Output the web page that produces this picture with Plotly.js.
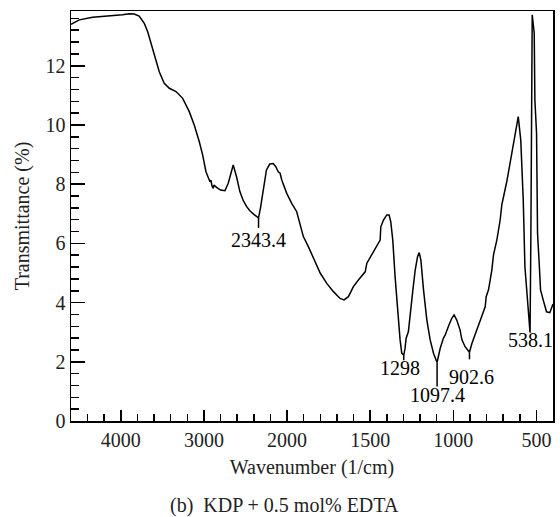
<!DOCTYPE html>
<html>
<head>
<meta charset="utf-8">
<script src="https://cdn.plot.ly/plotly-3.0.1.min.js"></script>
<style>
  html, body { margin: 0; padding: 0; background: #ffffff; }
  #chart { width: 560px; height: 517px; }
</style>
</head>
<body>
<div id="chart"></div>
<script>
// FTIR spectrum: KDP + 0.5 mol% EDTA
const wavenumber = [
  4600, 4500, 4340, 4180, 4060, 3980, 3900, 3840, 3780, 3718, 3677, 3638, 3598, 3538,
  3478, 3417, 3337, 3256, 3177, 3117, 3057, 3016, 2976, 2944, 2928, 2916, 2904, 2888,
  2880, 2848, 2800, 2748, 2708, 2648, 2608, 2568, 2528, 2488, 2448, 2400, 2360, 2343.4,
  2320, 2300, 2280, 2256, 2248, 2208, 2166, 2136, 2106, 2084, 2064, 2004,
  1972, 1942, 1922, 1912, 1902, 1872, 1842, 1800, 1761, 1721, 1681, 1657, 1631, 1601,
  1571, 1530, 1520, 1490, 1460, 1440, 1436, 1420, 1400, 1386, 1376, 1364, 1350, 1336,
  1320, 1310, 1298, 1290, 1284, 1270, 1260, 1243, 1229, 1215, 1205, 1195, 1179, 1159,
  1139, 1119, 1103, 1097.4, 1090, 1079, 1059, 1049, 1029, 1009, 995, 979, 959, 948,
  929, 915, 902.6, 888, 858, 828, 808, 802, 788, 768, 758, 738, 718, 708, 678, 648,
  623, 609, 594, 579, 569, 555, 546, 538.1, 533, 529, 525, 513, 509, 499, 493, 483,
  475, 459, 439, 419, 407, 400
];
const transmittance = [
  13.40, 13.55, 13.64, 13.67, 13.68, 13.72, 13.76, 13.75, 13.68, 13.43, 13.15, 12.76, 12.31, 11.80,
  11.41, 11.24, 11.13, 10.90, 10.45, 10.00, 9.44, 8.99, 8.42, 8.14, 8.08, 8.14, 7.95, 7.86,
  7.97, 7.89, 7.80, 7.78, 8.03, 8.65, 8.25, 7.75, 7.45, 7.25, 7.10, 6.98, 6.90, 6.86,
  7.20, 7.55, 7.95, 8.25, 8.48, 8.68, 8.70, 8.59, 8.42, 8.37, 8.14, 7.69,
  7.35, 7.07, 6.68, 6.51, 6.23, 5.89, 5.50, 4.99, 4.65, 4.37, 4.14, 4.09, 4.20, 4.54,
  4.76, 5.04, 5.33, 5.61, 5.89, 6.11, 6.56, 6.79, 6.96, 6.96, 6.73, 6.11, 4.87, 3.75,
  2.74, 2.29, 2.22, 2.46, 2.79, 3.02, 3.64, 4.43, 5.10, 5.55, 5.69, 5.44, 4.43, 3.41,
  2.74, 2.29, 2.05, 1.98, 2.17, 2.45, 2.80, 2.90, 3.20, 3.47, 3.58, 3.41, 3.07, 2.74,
  2.51, 2.40, 2.32, 2.62, 3.07, 3.52, 3.86, 4.20, 4.43, 5.10, 5.61, 6.11, 6.79, 7.30, 8.09, 9.04,
  9.77, 10.28, 9.49, 7.47, 5.21, 4.09, 3.50, 2.98, 6.34, 11.97, 13.72, 13.10, 10.84, 9.72, 6.34, 5.33,
  4.43, 4.09, 3.69, 3.66, 3.81, 3.95
];

// Labelled absorption bands
const peakWavenumbers = [2343.4, 1298, 1097.4, 902.6, 538.1];
const peakLabels = ['2343.4', '1298', '1097.4', '902.6', '538.1'];

// Axis tick labels
const majorTicks = [4000, 3000, 2000, 1500, 1000, 500];
const majorTickText = ['4000', '3000', '2000', '1500', '1000', '500'];
const yTicks = [0, 2, 4, 6, 8, 10, 12];

// The wavenumber axis is compressed 2:1 above 2000 1/cm
function toAxis(w) {
  return w >= 2000 ? (4600 - w) / 2 : 1300 + (2000 - w);
}

const FONT = '"Liberation Serif", "Times New Roman", serif';

// Minor tick positions
const xMinor = [];
for (let w = 4400; w > 2000; w -= 200) if (w % 1000 !== 0) xMinor.push(toAxis(w));
for (let w = 1900; w >= 400; w -= 100) if (w % 500 !== 0) xMinor.push(toAxis(w));
const yMinor = [];
for (let k = 1; k * 0.4 < 13.85; k++) if (k % 5 !== 0) yMinor.push(+(k * 0.4).toFixed(2));

// Leader lines below the labelled minima (length in px)
const leaderPx = [10, 5, 24, 7, 0];
const labelGapPx = [9, 0, 20, 12, -6];
const labelDx = [0, -4, 0, 2, 0];
const pxPerUnit = 410 / 13.85;

const leadX = [], leadY = [];
const annotations = [];
peakWavenumbers.forEach((w, i) => {
  const idx = wavenumber.indexOf(w);
  const t = transmittance[idx];
  if (leaderPx[i] > 0) {
    leadX.push(toAxis(w), toAxis(w), null);
    leadY.push(t, t - leaderPx[i] / pxPerUnit, null);
  }
  annotations.push({
    x: toAxis(w), y: t, xref: 'x', yref: 'y',
    text: peakLabels[i], showarrow: false,
    xanchor: 'center', yanchor: 'top',
    yshift: -labelGapPx[i], xshift: labelDx[i],
    font: { family: FONT, size: 20, color: '#000' }
  });
});

annotations.push({
  x: 0.442, y: -0.205, xref: 'paper', yref: 'paper',
  text: '(b)&nbsp;&nbsp;KDP + 0.5 mol% EDTA', showarrow: false,
  xanchor: 'center', yanchor: 'middle',
  font: { family: FONT, size: 20, color: '#222' }
});

const traces = [
  {
    x: wavenumber.map(toAxis), y: transmittance,
    type: 'scatter', mode: 'lines',
    line: { color: '#000', width: 1.5 },
    hoverinfo: 'skip', showlegend: false
  },
  {
    x: leadX, y: leadY,
    type: 'scatter', mode: 'lines',
    line: { color: '#000', width: 1.5 },
    hoverinfo: 'skip', showlegend: false
  }
];

const layout = {
  width: 560, height: 517,
  margin: { l: 71, r: 7, t: 11, b: 96 },
  paper_bgcolor: '#fff', plot_bgcolor: '#fff',
  showlegend: false,
  font: { family: FONT, size: 20, color: '#222' },
  xaxis: {
    range: [0, 2900],
    tickmode: 'array', tickvals: majorTicks.map(toAxis), ticktext: majorTickText,
    ticks: 'inside', ticklen: 11, tickwidth: 1.5, tickcolor: '#000',
    minor: { tickmode: 'array', tickvals: xMinor, ticks: 'inside', ticklen: 7, tickwidth: 1.5, tickcolor: '#000' },
    showline: true, linecolor: '#000', linewidth: 1.5, mirror: true,
    showgrid: false, zeroline: false,
    tickfont: { family: FONT, size: 20, color: '#222' },
    title: { text: 'Wavenumber (1/cm)', standoff: 10, font: { family: FONT, size: 20, color: '#222' } }
  },
  yaxis: {
    range: [0, 13.85],
    tickmode: 'array', tickvals: yTicks,
    ticks: 'inside', ticklen: 14, tickwidth: 1.5, tickcolor: '#000',
    minor: { tickmode: 'array', tickvals: yMinor, ticks: 'inside', ticklen: 8, tickwidth: 1.5, tickcolor: '#000' },
    showline: true, linecolor: '#000', linewidth: 1.5, mirror: true,
    showgrid: false, zeroline: false,
    tickfont: { family: FONT, size: 20, color: '#222' },
    title: { text: 'Transmittance (%)', standoff: 10, font: { family: FONT, size: 20, color: '#222' } }
  },
  annotations: annotations
};

Plotly.newPlot('chart', traces, layout, { displayModeBar: false, staticPlot: true });
</script>
</body>
</html>
